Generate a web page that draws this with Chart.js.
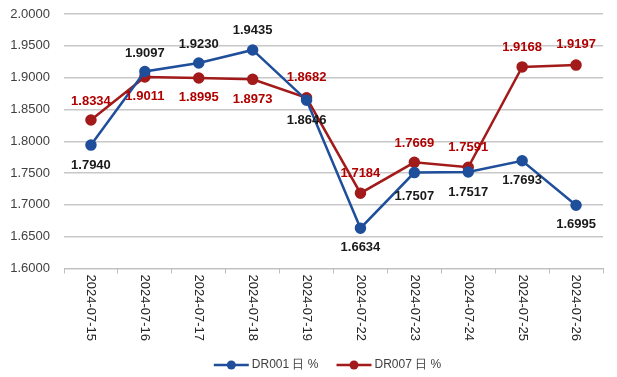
<!DOCTYPE html>
<html>
<head>
<meta charset="utf-8">
<script src="https://cdn.jsdelivr.net/npm/chart.js@4"></script>
<style>
  html, body { margin: 0; padding: 0; background: #fff; }
  #wrap { width: 617px; height: 377px; position: relative; }
</style>
</head>
<body>
<div id="wrap"><canvas id="rateChart"></canvas></div>
<script>
const dates = ['2024-07-15', '2024-07-16', '2024-07-17', '2024-07-18', '2024-07-19',
               '2024-07-22', '2024-07-23', '2024-07-24', '2024-07-25', '2024-07-26'];
const dr001 = [1.7940, 1.9097, 1.9230, 1.9435, 1.8646, 1.6634, 1.7507, 1.7517, 1.7693, 1.6995];
const dr007 = [1.8334, 1.9011, 1.8995, 1.8973, 1.8682, 1.7184, 1.7669, 1.7591, 1.9168, 1.9197];
const seriesNames = ['DR001 日 %', 'DR007 日 %'];

const BLUE = '#1f4e9b';
const RED = '#a31a1a';
const FONT = '"Liberation Sans", Arial, sans-serif';

// where each value label sits relative to its point (+ below, - above)
const labelShift = [
    [20, -18, -19, -20, 20, 19, 24, 20, 20, 19],
    [-19, 19, 19, 20, -20, -20, -19, -20, -20, -21]
];
const labelColors = ['#1a1a1a', '#b00000'];
const seriesColors = [BLUE, RED];

const valueLabels = {
    id: 'valueLabels',
    afterDatasetsDraw(chart) {
        const ctx = chart.ctx;
        ctx.save();
        ctx.font = 'bold 13px ' + FONT;
        ctx.textAlign = 'center';
        ctx.textBaseline = 'middle';
        chart.data.datasets.forEach((ds, d) => {
            const meta = chart.getDatasetMeta(d);
            ctx.fillStyle = labelColors[d];
            meta.data.forEach((pt, i) => {
                ctx.fillText(ds.data[i].toFixed(4), pt.x, pt.y + labelShift[d][i]);
            });
        });
        ctx.restore();
    }
};

// x labels read top to bottom, so draw them ourselves
const dateLabels = {
    id: 'dateLabels',
    afterDraw(chart) {
        const scale = chart.scales.x;
        const ctx = chart.ctx;
        ctx.save();
        ctx.font = '13px ' + FONT;
        ctx.fillStyle = '#262626';
        ctx.textAlign = 'left';
        ctx.textBaseline = 'middle';
        scale.ticks.forEach((t, i) => {
            const x = scale.getPixelForTick(i);
            ctx.save();
            ctx.translate(x, scale.top + 6);
            ctx.rotate(Math.PI / 2);
            ctx.fillText(dates[i], 0, 0);
            ctx.restore();
        });
        ctx.restore();
    }
};

// legend centred under the plot area: line with a dot, then the name
const bottomLegend = {
    id: 'bottomLegend',
    afterDraw(chart) {
        const ctx = chart.ctx;
        const area = chart.chartArea;
        ctx.save();
        ctx.font = '12px ' + FONT;
        ctx.textBaseline = 'middle';
        ctx.textAlign = 'left';
        const markW = 35, gapText = 3, gapItem = 18;
        const widths = seriesNames.map(n => markW + gapText + ctx.measureText(n).width);
        const total = widths.reduce((a, b) => a + b, 0) + gapItem;
        let x = (area.left + area.right) / 2 - 6 - total / 2;
        const y = 365;
        seriesNames.forEach((name, i) => {
            ctx.strokeStyle = seriesColors[i];
            ctx.fillStyle = seriesColors[i];
            ctx.lineWidth = 2.5;
            ctx.beginPath();
            ctx.moveTo(x, y);
            ctx.lineTo(x + markW, y);
            ctx.stroke();
            ctx.beginPath();
            ctx.arc(x + markW / 2, y, 4.5, 0, Math.PI * 2);
            ctx.fill();
            ctx.fillStyle = '#404040';
            ctx.fillText(name, x + markW + gapText, y);
            x += widths[i] + gapItem;
        });
        ctx.restore();
    }
};

new Chart(document.getElementById('rateChart'), {
    type: 'line',
    data: {
        labels: dates,
        datasets: [
            {
                label: seriesNames[0],
                data: dr001,
                borderColor: BLUE,
                backgroundColor: BLUE,
                borderWidth: 2.5,
                pointRadius: 4.5,
                pointHoverRadius: 4.5,
                tension: 0
            },
            {
                label: seriesNames[1],
                data: dr007,
                borderColor: RED,
                backgroundColor: RED,
                borderWidth: 2.5,
                pointRadius: 4.5,
                pointHoverRadius: 4.5,
                tension: 0
            }
        ]
    },
    options: {
        responsive: true,
        maintainAspectRatio: false,
        animation: false,
        layout: { padding: { top: 0, right: 14, left: 10, bottom: 33 } },
        scales: {
            x: {
                offset: true,
                grid: {
                    offset: true,
                    drawOnChartArea: false,
                    drawTicks: true,
                    tickLength: 5,
                    color: '#bfbfbf'
                },
                border: { color: '#bfbfbf' },
                ticks: {
                    color: 'transparent',
                    font: { size: 13, family: FONT },
                    minRotation: 90,
                    maxRotation: 90,
                    padding: 2
                }
            },
            y: {
                min: 1.6,
                max: 2.0,
                afterFit: (scale) => {
                    scale.width = 54;
                    scale.paddingTop = 14;
                    scale.paddingBottom = 8;
                },
                ticks: {
                    stepSize: 0.05,
                    color: '#404040',
                    font: { size: 13, family: FONT },
                    padding: 14,
                    callback: (v) => Number(v).toFixed(4)
                },
                grid: { color: '#c8c8c8', drawTicks: false, lineWidth: 1.5 },
                border: { display: false }
            }
        },
        plugins: {
            legend: { display: false },
            tooltip: { enabled: false }
        }
    },
    plugins: [valueLabels, dateLabels, bottomLegend]
});
</script>
</body>
</html>
